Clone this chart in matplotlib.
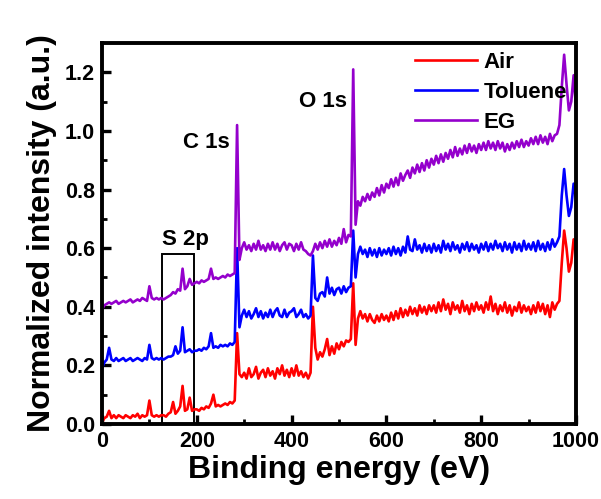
import numpy as np
import matplotlib
matplotlib.use("Agg")
import matplotlib.pyplot as plt
from matplotlib.patches import Rectangle

plt.rcParams['font.family'] = ['Liberation Sans', 'DejaVu Sans']
plt.rcParams['font.weight'] = 'bold'

# binding energy grid, 5 eV step
energy = np.arange(0, 1001, 5)

air = [
    0.005, 0.02, 0.025, 0.045, 0.02, 0.03, 0.02, 0.03, 0.025, 0.02, 0.03, 0.025, 0.02, 0.03, 0.025, 0.035, 0.02, 0.03, 0.025, 0.03,
    0.08, 0.03, 0.025, 0.03, 0.025, 0.03, 0.03, 0.025, 0.035, 0.04, 0.075, 0.035, 0.045, 0.06, 0.13, 0.045, 0.05, 0.09, 0.045, 0.05,
    0.05, 0.045, 0.055, 0.05, 0.06, 0.055, 0.07, 0.10, 0.06, 0.065, 0.06, 0.065, 0.07, 0.065, 0.075, 0.07, 0.08, 0.31, 0.17, 0.16,
    0.175, 0.155, 0.19, 0.16, 0.17, 0.195, 0.155, 0.175, 0.185, 0.16, 0.19, 0.165, 0.18, 0.155, 0.19, 0.17, 0.20, 0.165, 0.185, 0.16,
    0.19, 0.165, 0.20, 0.165, 0.18, 0.16, 0.175, 0.155, 0.175, 0.40, 0.26, 0.22, 0.245, 0.23, 0.255, 0.29, 0.235, 0.265, 0.24, 0.275,
    0.255, 0.28, 0.265, 0.285, 0.28, 0.29, 0.48, 0.27, 0.36, 0.385, 0.36, 0.375, 0.35, 0.375, 0.355, 0.345, 0.37, 0.35, 0.375, 0.355,
    0.37, 0.35, 0.38, 0.355, 0.385, 0.36, 0.395, 0.365, 0.39, 0.37, 0.40, 0.375, 0.395, 0.37, 0.405, 0.38, 0.40, 0.375, 0.405, 0.385,
    0.405, 0.38, 0.415, 0.385, 0.425, 0.39, 0.41, 0.375, 0.415, 0.39, 0.405, 0.38, 0.42, 0.385, 0.405, 0.375, 0.41, 0.385, 0.415, 0.39,
    0.405, 0.38, 0.415, 0.39, 0.435, 0.385, 0.41, 0.375, 0.405, 0.385, 0.415, 0.38, 0.405, 0.37, 0.40, 0.385, 0.415, 0.38, 0.405, 0.385,
    0.40, 0.375, 0.405, 0.38, 0.415, 0.385, 0.41, 0.375, 0.405, 0.365, 0.415, 0.39, 0.41, 0.42, 0.55, 0.66, 0.60, 0.52, 0.55, 0.63,
    0.58,
]

toluene = [
    0.19, 0.21, 0.22, 0.26, 0.22, 0.215, 0.225, 0.215, 0.22, 0.225, 0.215, 0.22, 0.225, 0.215, 0.22, 0.225, 0.22, 0.215, 0.225, 0.22,
    0.27, 0.225, 0.22, 0.225, 0.22, 0.225, 0.22, 0.225, 0.23, 0.23, 0.235, 0.265, 0.24, 0.25, 0.33, 0.245, 0.25, 0.255, 0.245, 0.25,
    0.25, 0.255, 0.25, 0.26, 0.255, 0.265, 0.31, 0.26, 0.265, 0.26, 0.27, 0.265, 0.27, 0.265, 0.275, 0.27, 0.28, 0.60, 0.33, 0.37,
    0.39, 0.365, 0.385, 0.36, 0.375, 0.395, 0.365, 0.385, 0.36, 0.38, 0.365, 0.39, 0.365, 0.385, 0.395, 0.37, 0.365, 0.39, 0.365, 0.38,
    0.385, 0.395, 0.365, 0.375, 0.39, 0.365, 0.375, 0.36, 0.37, 0.575, 0.43, 0.42, 0.445, 0.45, 0.435, 0.50, 0.445, 0.465, 0.44, 0.46,
    0.465, 0.445, 0.47, 0.45, 0.465, 0.47, 0.66, 0.50, 0.58, 0.605, 0.58, 0.595, 0.57, 0.60, 0.575, 0.595, 0.57, 0.60, 0.575, 0.595,
    0.58, 0.60, 0.575, 0.605, 0.58, 0.60, 0.575, 0.605, 0.585, 0.64, 0.595, 0.59, 0.63, 0.595, 0.61, 0.585, 0.615, 0.59, 0.61, 0.585,
    0.615, 0.59, 0.61, 0.585, 0.625, 0.595, 0.615, 0.59, 0.62, 0.595, 0.61, 0.585, 0.615, 0.595, 0.62, 0.59, 0.615, 0.595, 0.61, 0.585,
    0.615, 0.595, 0.62, 0.59, 0.615, 0.595, 0.625, 0.60, 0.615, 0.59, 0.62, 0.595, 0.615, 0.585, 0.62, 0.595, 0.615, 0.59, 0.625, 0.595,
    0.615, 0.595, 0.62, 0.59, 0.625, 0.595, 0.615, 0.59, 0.62, 0.595, 0.63, 0.605, 0.62, 0.64, 0.78, 0.87, 0.78, 0.71, 0.74, 0.82,
    0.77,
]

eg = [
    0.39, 0.405, 0.41, 0.415, 0.41, 0.415, 0.42, 0.41, 0.415, 0.42, 0.415, 0.42, 0.425, 0.415, 0.42, 0.425, 0.42, 0.43, 0.425, 0.42,
    0.47, 0.43, 0.425, 0.43, 0.425, 0.43, 0.425, 0.43, 0.435, 0.44, 0.45, 0.445, 0.46, 0.455, 0.53, 0.46, 0.47, 0.495, 0.475, 0.48,
    0.485, 0.48, 0.49, 0.485, 0.49, 0.495, 0.53, 0.495, 0.50, 0.495, 0.50, 0.505, 0.50, 0.51, 0.505, 0.51, 0.515, 1.02, 0.56, 0.60,
    0.62, 0.595, 0.61, 0.59, 0.615, 0.595, 0.625, 0.595, 0.61, 0.59, 0.615, 0.595, 0.62, 0.595, 0.615, 0.59, 0.61, 0.62, 0.595, 0.615,
    0.61, 0.59, 0.615, 0.595, 0.62, 0.595, 0.59, 0.58, 0.575, 0.59, 0.615, 0.595, 0.62, 0.60, 0.625, 0.605, 0.63, 0.605, 0.625, 0.61,
    0.635, 0.615, 0.665, 0.62, 0.645, 0.64, 1.21, 0.68, 0.76, 0.745, 0.775, 0.76, 0.785, 0.765, 0.79, 0.775, 0.805, 0.78, 0.815, 0.79,
    0.82, 0.805, 0.835, 0.81, 0.84, 0.815, 0.855, 0.83, 0.85, 0.865, 0.84, 0.875, 0.855, 0.885, 0.86, 0.89, 0.865, 0.90, 0.875, 0.905,
    0.885, 0.915, 0.89, 0.92, 0.895, 0.925, 0.905, 0.935, 0.91, 0.945, 0.915, 0.94, 0.92, 0.95, 0.925, 0.955, 0.93, 0.95, 0.925, 0.955,
    0.935, 0.96, 0.935, 0.965, 0.94, 0.96, 0.935, 0.965, 0.94, 0.96, 0.93, 0.955, 0.935, 0.96, 0.94, 0.965, 0.945, 0.97, 0.945, 0.965,
    0.95, 0.975, 0.955, 0.98, 0.955, 0.985, 0.96, 0.98, 0.955, 0.99, 0.965, 0.985, 0.99, 1.02, 1.15, 1.26, 1.16, 1.07, 1.10, 1.19,
    1.08,
]

labels = ["Air", "Toluene", "EG"]
colors = ["#ff0000", "#0000ff", "#9400cc"]

fig = plt.figure(figsize=(6.01, 4.99), dpi=100)
ax = fig.add_axes([0.1697, 0.1503, 0.7887, 0.7635])

for y, lab, c in zip([air, toluene, eg], labels, colors):
    ax.plot(energy, y, color=c, lw=1.9, label=lab)

ax.add_patch(Rectangle((127, 0), 67, 0.58, fill=False, ec="black", lw=1.4))
ax.text(175, 0.63, "S 2p", fontsize=16, fontweight="bold", ha="center", va="center")
ax.text(270, 0.96, "C 1s", fontsize=16, fontweight="bold", ha="right", va="center")
ax.text(517, 1.10, "O 1s", fontsize=16, fontweight="bold", ha="right", va="center")

ax.set_xlim(0, 1000)
ax.set_ylim(0, 1.3)
ax.set_xticks([0, 200, 400, 600, 800, 1000])
ax.set_yticks([0.0, 0.2, 0.4, 0.6, 0.8, 1.0, 1.2])
ax.set_xticks(np.arange(100, 1000, 200), minor=True)
ax.set_yticks([0.1, 0.3, 0.5, 0.7, 0.9, 1.1], minor=True)
ax.yaxis.set_major_formatter(matplotlib.ticker.FormatStrFormatter("%.1f"))
ax.tick_params(which="major", direction="in", length=6.5, width=2.4, labelsize=15.5, pad=5)
ax.tick_params(which="minor", direction="in", length=3.5, width=2.0)
for s in ax.spines.values():
    s.set_linewidth(2.8)

ax.set_xlabel("Binding energy (eV)", fontsize=23, fontweight="bold", labelpad=2)
ax.set_ylabel("Normalized intensity (a.u.)", fontsize=23, fontweight="bold", labelpad=6)

leg = ax.legend(loc="upper right", frameon=False, fontsize=16, handlelength=2.8,
                handletextpad=0.3, labelspacing=0.4, borderaxespad=0.0,
                bbox_to_anchor=(1.0, 1.0))

fig.savefig("out.png", dpi=100)
